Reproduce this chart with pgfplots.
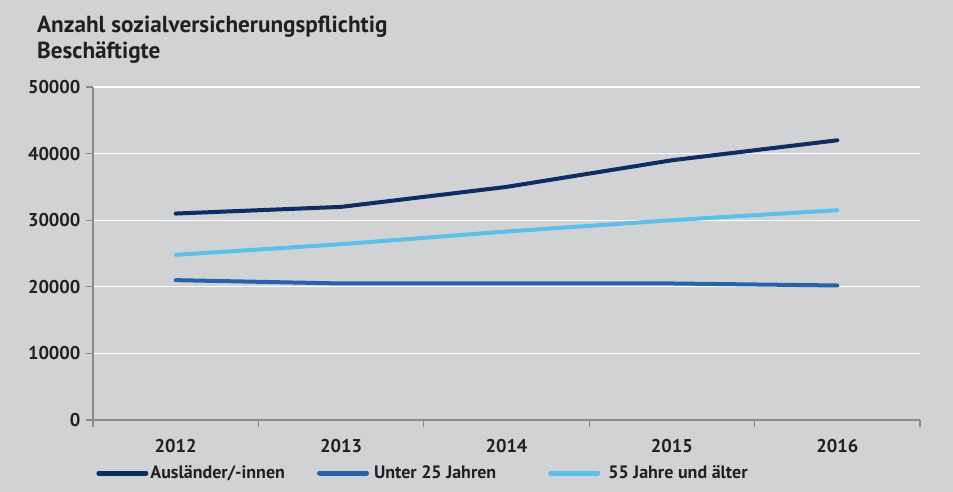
\documentclass[border=0pt]{standalone}
\usepackage{pgfplots}
\pgfplotsset{compat=1.18}
\usepackage{fontspec}
\setmainfont{PT Sans}
\definecolor{bg}{HTML}{D1D2D4}
\definecolor{txt}{HTML}{231F20}
\definecolor{axgray}{HTML}{8A8A8A}
\definecolor{cdark}{HTML}{0C2E63}
\definecolor{cmid}{HTML}{2563AE}
\definecolor{clight}{HTML}{5DBEEE}
\begin{document}
\begin{tikzpicture}[x=1pt,y=1pt]
\fill[bg] (0,0) rectangle (953,-492);
\node[anchor=base west,text=txt,font=\bfseries\fontsize{23.2}{24}\selectfont,inner sep=0pt] at (37,-33) {Anzahl sozialversicherungspflichtig};
\node[anchor=base west,text=txt,font=\bfseries\fontsize{23.2}{24}\selectfont,inner sep=0pt] at (37,-59) {Beschäftigte};
\begin{axis}[
  at={(93pt,-420pt)}, anchor=south west,
  scale only axis, width=827pt, height=333pt,
  xmin=-0.5, xmax=4.5, ymin=0, ymax=50000,
  axis lines=left,
  axis line style={-, draw=axgray, line width=1.2pt},
  xtick={0,1,2,3,4},
  xticklabels={2012,2013,2014,2015,2016},
  major x tick style={draw=none},
  minor xtick={-0.5,0.5,1.5,2.5,3.5,4.5},
  minor x tick style={draw=axgray, line width=1.2pt},
  minor tick length=7pt,
  ytick={0,10000,20000,30000,40000,50000},
  scaled y ticks=false,
  major y tick style={draw=axgray, line width=1.2pt},
  major tick length=7pt,
  tick align=outside,
  ymajorgrids,
  major grid style={white, line width=1.2pt},
  tick label style={text=txt, font=\bfseries\fontsize{18.5}{20}\selectfont},
  yticklabel style={/pgf/number format/1000 sep={}, xshift=-2pt},
  xticklabel style={anchor=base, yshift=-25pt},
  /pgf/number format/assume math mode=true,
  legend columns=3,
  legend style={at={(0.2pt,-53pt)}, anchor=west, draw=none, fill=none,
    font=\bfseries\fontsize{18}{20}\selectfont, text=txt,
    /tikz/column 2/.style={column sep=30pt},
    /tikz/column 4/.style={column sep=50pt},
    /tikz/column 3/.style={column sep=3pt},
    /tikz/column 5/.style={column sep=6pt}},
  legend cell align=left,
  legend image code/.code={\draw[#1, line width=5pt, line cap=round] (0pt,0pt) -- (47pt,0pt);},
  every axis plot/.append style={line width=4pt, line cap=round, line join=round},
  clip=false,
]
\addplot[cdark, mark=none] coordinates {(0,31000) (1,32000) (2,35000) (3,39000) (4,42000)};
\addlegendentry{Ausländer/-innen}
\addplot[cmid, mark=none] coordinates {(0,21000) (1,20500) (2,20500) (3,20500) (4,20200)};
\addlegendentry{Unter 25 Jahren}
\addplot[clight, mark=none] coordinates {(0,24800) (1,26400) (2,28300) (3,30000) (4,31500)};
\addlegendentry{55 Jahre und älter}
\end{axis}
\end{tikzpicture}
\end{document}
